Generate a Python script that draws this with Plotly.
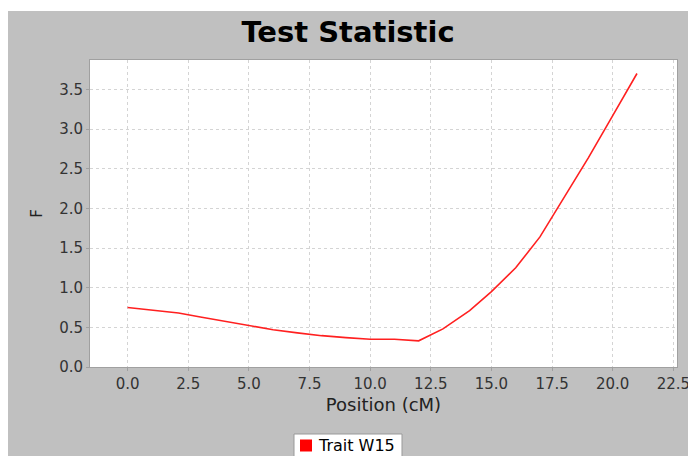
import plotly.graph_objects as go

position = [0.0, 2.1, 3.0, 4.0, 5.0, 6.0, 7.0, 8.0, 9.0, 10.0, 11.0, 12.0,
            13.0, 14.1, 15.0, 16.0, 17.0, 18.0, 19.0, 20.0, 21.0]
f_stat = [0.75, 0.68, 0.63, 0.575, 0.52, 0.47, 0.43, 0.395, 0.37, 0.35, 0.35, 0.33,
          0.48, 0.71, 0.95, 1.25, 1.64, 2.14, 2.64, 3.17, 3.70]
series_name = "Trait W15"
series_color = "#ff2020"
x_ticks = [0.0, 2.5, 5.0, 7.5, 10.0, 12.5, 15.0, 17.5, 20.0, 22.5]
y_ticks = [0.0, 0.5, 1.0, 1.5, 2.0, 2.5, 3.0, 3.5]

W, H = 688, 456
L, R, T, B = 90, 677, 60, 367
pw, ph = R - L, B - T

def px_x(p):
    return (p - L) / pw

def px_y(p):
    return (B - p) / ph

fig = go.Figure()
fig.add_trace(go.Scatter(x=position, y=f_stat, mode="lines", name=series_name,
                         line=dict(color=series_color, width=1.6), showlegend=False))

grid = dict(showgrid=True, gridcolor="#d4d4d4", griddash="dot", gridwidth=1,
            showline=True, linecolor="#a0a0a0", linewidth=1, mirror=True,
            ticks="outside", ticklen=3, tickcolor="#a0a0a0",
            tickfont=dict(family="DejaVu Sans", size=15, color="#333333"),
            zeroline=False, automargin=False, ticklabeloverflow="allow")

fig.update_xaxes(range=[-1.55, 22.65], tickvals=x_ticks,
                 ticktext=[f"{v:.1f}" for v in x_ticks],
                 title=dict(text="Position (cM)", font=dict(family="DejaVu Sans", size=18, color="#222222"), standoff=6),
                 **grid)
fig.update_yaxes(range=[0, 3.87], tickvals=y_ticks,
                 ticktext=[f"{v:.1f}" for v in y_ticks],
                 title=dict(text="F", font=dict(family="DejaVu Sans", size=15, color="#222222"), standoff=12),
                 **grid)

# legend drawn as a box with a colour swatch and label
leg_box = dict(type="rect", xref="paper", yref="paper",
               x0=px_x(294), x1=px_x(402), y0=px_y(462), y1=px_y(434),
               fillcolor="#ffffff", line=dict(color="#999999", width=1), layer="above")
leg_swatch = dict(type="rect", xref="paper", yref="paper",
                  x0=px_x(300), x1=px_x(312), y0=px_y(451.5), y1=px_y(439.5),
                  fillcolor="#ff0000", line=dict(width=0), layer="above")

fig.update_layout(
    width=W, height=H,
    margin=dict(l=L, r=W - R, t=T, b=H - B, autoexpand=False),
    showlegend=False,
    paper_bgcolor="#c0c0c0", plot_bgcolor="#ffffff",
    title=dict(text="<b>Test Statistic</b>", x=348 / W, xanchor="center",
               y=1 - 32 / H, yanchor="middle",
               font=dict(family="DejaVu Sans", size=29, color="#000000")),
    shapes=[
        dict(type="rect", xref="paper", yref="paper", x0=px_x(-5), x1=px_x(W + 5),
             y0=px_y(11), y1=px_y(-5), fillcolor="#ffffff", line=dict(width=0), layer="below"),
        dict(type="rect", xref="paper", yref="paper", x0=px_x(-5), x1=px_x(8),
             y0=px_y(H + 5), y1=px_y(-5), fillcolor="#ffffff", line=dict(width=0), layer="below"),
        leg_box, leg_swatch,
    ],
    annotations=[
        dict(text=series_name, xref="paper", yref="paper", x=px_x(316), y=px_y(445.5),
             xanchor="left", yanchor="middle", showarrow=False,
             font=dict(family="DejaVu Sans", size=16, color="#000000")),
    ],
)

fig.write_html("out.html", config={"displayModeBar": False},
               post_script="document.body.style.margin='0';document.body.style.overflow='hidden';")
